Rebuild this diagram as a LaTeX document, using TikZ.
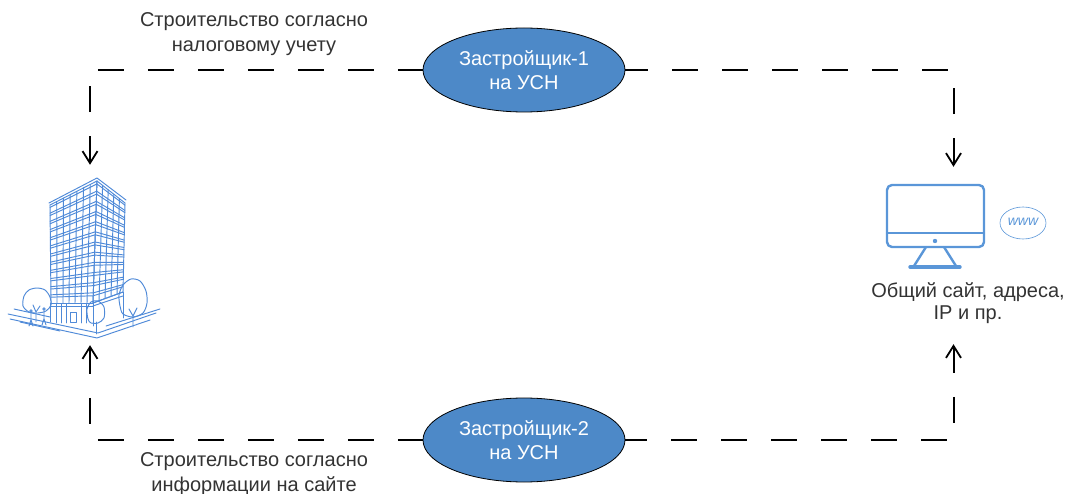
\documentclass[tikz,border=0pt]{standalone}
\usepackage{fontspec}
\setmainfont{Liberation Sans}
\usetikzlibrary{arrows.meta,calc,shapes.geometric}
\definecolor{nodeblue}{HTML}{4D89C8}
\definecolor{iconblue}{HTML}{5A96D8}
\definecolor{sketchblue}{HTML}{4F8AD8}
\definecolor{txtgray}{HTML}{333333}
\begin{document}
\begin{tikzpicture}[x=1pt,y=-1pt,
  flowin/.style={line width=2pt, dash pattern=on 26pt off 24pt,
    {Straight Barb[length=12pt,width=15pt,line width=1.8pt]}-},
  actor/.style={ellipse, draw=black, line width=0.8pt, fill=nodeblue,
    minimum width=202pt, minimum height=84pt, inner sep=0pt,
    text=white, align=center, font=\fontsize{20}{24}\selectfont},
  caption/.style={text=txtgray, align=center, inner sep=0pt,
    font=\fontsize{20}{25}\selectfont},
  anchorbox/.style={inner sep=0pt, minimum width=1pt},
  sketch/.style={draw=sketchblue, line width=0.95pt, line join=round, line cap=round},
  icon/.style={draw=iconblue, line width=2.4pt, line cap=round, line join=round}]

\useasboundingbox (0,0) rectangle (1069,494);

% ---- developers ----
\node[actor] (e1) at (524,70) {Застройщик-1\\на УСН};
\node[actor] (e2) at (524,440) {Застройщик-2\\на УСН};

% ---- captions ----
\node[caption] (t1) at (254,34.5) {Строительство согласно\\налоговому учету};
\node[caption] (t2) at (254,474) {Строительство согласно\\информации на сайте};

% ---- targets (arrow landing zones) ----
\node[anchorbox, minimum height=180pt] (bld) at (90,255) {};
\node[anchorbox, minimum height=177pt] (site) at (953.5,255.5) {};

% ---- connectors ----
\draw[flowin] (bld.north) |- (e1.west);
\draw[flowin] (site.north) |- (e1.east);
\draw[flowin] (bld.south) |- (e2.west);
\draw[flowin] (site.south) |- (e2.east);

% ---- office tower sketch ----
\coordinate (A) at (50,205);  \coordinate (B) at (97,181);
\coordinate (C) at (93,303);  \coordinate (D) at (51,303);
\coordinate (A2) at (97,181); \coordinate (B2) at (125,203);
\coordinate (C2) at (123,292); \coordinate (D2) at (93,303);
\foreach \k in {0,...,12}{
  \pgfmathsetmacro{\v}{\k/12}
  \pgfmathsetmacro{\w}{min(\k/12+0.024,1)}
  \draw[sketch] ($(A)!\v!(D)$) -- ($(B)!\v!(C)$);
  \draw[sketch] ($(A)!\w!(D)$) -- ($(B)!\w!(C)$);
  \draw[sketch] ($(A2)!\v!(D2)$) -- ($(B2)!\v!(C2)$);
  \draw[sketch] ($(A2)!\w!(D2)$) -- ($(B2)!\w!(C2)$);
}
\foreach \k in {0,...,7}{
  \pgfmathsetmacro{\u}{\k/7}
  \draw[sketch] ($(A)!\u!(B)$) -- ($(D)!\u!(C)$);
}
\foreach \k in {0,...,5}{
  \pgfmathsetmacro{\u}{\k/5}
  \draw[sketch] ($(A2)!\u!(B2)$) -- ($(D2)!\u!(C2)$);
}
% roof parapet
\draw[sketch] (49,203) -- (97,178) -- (126,200);
% lobby
\draw[sketch] (50,303) -- (50,322) (93,303) -- (93,326) (123,292) -- (123,318);
\foreach \x in {56,61,66,81,86}{\draw[sketch] (\x,304) -- (\x,323);}
\draw[sketch] (50,306) -- (93,306);
\draw[sketch] (70,312) rectangle (76,322);
\draw[sketch] (93,306) -- (123,296);
% trees
\draw[sketch] plot[smooth cycle] coordinates {(23,306) (24,296) (29,290) (37,288) (45,290) (50,297) (51,305) (46,311) (38,313) (29,312)};
\draw[sketch] (36,312) -- (36,322) (33,305) -- (36,312) -- (40,306);
\draw[sketch] plot[smooth cycle] coordinates {(120,306) (119,295) (123,285) (131,279) (140,281) (146,291) (147,303) (143,313) (133,317) (123,314)};
\draw[sketch] (133,316) -- (133,327) (129,309) -- (133,316) -- (137,308);
\draw[sketch] plot[smooth cycle] coordinates {(88,319) (87,309) (91,302) (98,301) (104,307) (104,318) (98,323) (91,323)};
\draw[sketch] (96,322) -- (96,334);
% pedestrians
\draw[sketch] (31,313) -- (31,320) (29,326) -- (31,320) -- (33,326) (31,311) circle (1.2);
\draw[sketch] (44,311) -- (44,319) (42,325) -- (44,319) -- (46,325) (44,309) circle (1.2);
% ground
\draw[sketch] (8,314) -- (98,333) -- (156,313);
\draw[sketch] (10,319) -- (97,338) -- (150,320);
\draw[sketch] (14,309) -- (50,317);
\draw[sketch] (106,326) -- (160,309);
\draw[sketch] (20,322) -- (60,331);

% ---- monitor icon ----
\draw[icon, rounded corners=5pt] (887,185) rectangle (984,247);
\draw[icon] (887,233) -- (984,233);
\fill[iconblue] (935,241) circle (2.2pt);
\draw[icon] (926,247) -- (914,266) (944,247) -- (956,266);
\draw[icon, line width=3.4pt] (910,267) -- (960,267);
% web bubble
\draw[iconblue, line width=0.6pt] (1023,223) ellipse [x radius=23, y radius=16];
\node[text=iconblue, inner sep=0pt, font=\fontsize{14}{14}\itshape] (www) at (1023,222) {www};

\node[caption, font=\fontsize{20}{22}\selectfont] (t3) at (968,303) {Общий сайт, адреса,\\IP и пр.};
\end{tikzpicture}
\end{document}
